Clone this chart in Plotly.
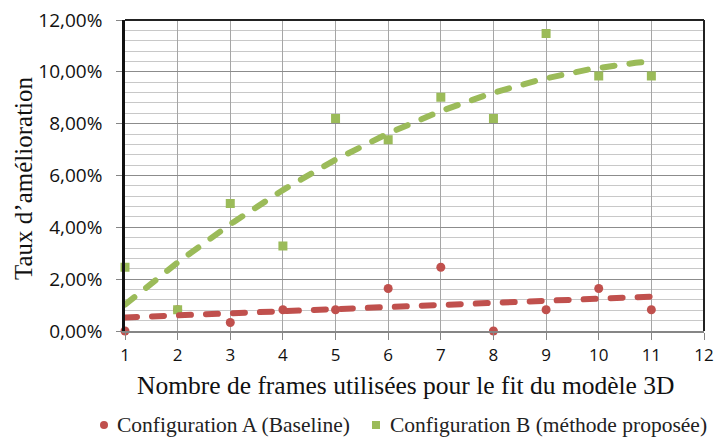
import numpy as np
import plotly.graph_objects as go

# Number of frames used for the 3D model fit
frames = [1, 2, 3, 4, 5, 6, 7, 8, 9, 10, 11]

# Improvement rate (%) per configuration
config_a = [0.00, 0.82, 0.33, 0.82, 0.82, 1.64, 2.46, 0.00, 0.82, 1.64, 0.82]
config_b = [2.46, 0.82, 4.92, 3.28, 8.20, 7.38, 9.02, 8.20, 11.48, 9.84, 9.84]

name_a = "Configuration A (Baseline)"
name_b = "Configuration B (méthode proposée)"
x_title = "Nombre de frames utilisées pour le fit du modèle 3D"
y_title = "Taux d’amélioration"

red = "#C0504D"
green = "#9BBB59"

# Trend lines: linear for A, 2nd-order polynomial for B
xs = np.linspace(frames[0], frames[-1], 200)
trend_a = np.polyval(np.polyfit(frames, config_a, 1), xs)
trend_b = np.polyval(np.polyfit(frames, config_b, 2), xs)

fig = go.Figure()
fig.add_trace(go.Scatter(x=frames, y=config_a, mode="markers", name=name_a,
                         marker=dict(symbol="circle", size=9, color=red),
                         cliponaxis=False))
fig.add_trace(go.Scatter(x=frames, y=config_b, mode="markers", name=name_b,
                         marker=dict(symbol="square", size=9, color=green),
                         cliponaxis=False))
fig.add_trace(go.Scatter(x=xs, y=trend_a, mode="lines",
                         line=dict(color=red, width=6, dash="12px,15px")))
fig.add_trace(go.Scatter(x=xs, y=trend_b, mode="lines",
                         line=dict(color=green, width=6, dash="12px,15px")))

serif = "Liberation Serif"
sans = "Open Sans"

# Plot-area geometry in pixels, used to place the hand-built legend
W, H = 716, 437
ML, MR, MT, MB = 125, 12, 20, 106
PW, PH = W - ML - MR, H - MT - MB


def px_x(p):
    return (p - ML) / PW


def px_y(p):
    return (H - MB - p) / PH


legend_y = px_y(425)
legend_items = [
    # (symbol shape, colour, symbol centre x, text left x, label)
    ("circle", red, 104, 115, name_a),
    ("rect", green, 376, 388, name_b),
]

shapes = [
    # top and right frame of the plot area
    dict(type="line", xref="paper", yref="paper", x0=0, x1=1, y0=1, y1=1,
         line=dict(color="#222", width=2), layer="above"),
    dict(type="line", xref="paper", yref="paper", x0=1, x1=1, y0=0, y1=1,
         line=dict(color="#222", width=2), layer="above"),
]
annotations = [
    dict(text=x_title, xref="paper", yref="paper", x=0.484, y=px_y(385),
         xanchor="center", yanchor="middle", showarrow=False,
         font=dict(family=serif, size=25.5, color="#111")),
    dict(text=y_title, xref="paper", yref="paper", x=px_x(23), y=px_y(178),
         xanchor="center", yanchor="middle", textangle=-90, showarrow=False,
         font=dict(family=serif, size=25, color="#111")),
]
for shape, colour, sx, tx, label in legend_items:
    shapes.append(dict(type=shape, xref="paper", yref="paper",
                       xsizemode="pixel", ysizemode="pixel",
                       xanchor=px_x(sx), yanchor=legend_y,
                       x0=-4, x1=4, y0=-4, y1=4,
                       fillcolor=colour, line=dict(width=0)))
    annotations.append(dict(text=label, xref="paper", yref="paper",
                            x=px_x(tx), y=legend_y, xanchor="left", yanchor="middle",
                            showarrow=False,
                            font=dict(family=serif, size=21.5, color="#222")))

fig.update_layout(
    width=W, height=H,
    margin=dict(l=ML, r=MR, t=MT, b=MB, autoexpand=False),
    paper_bgcolor="white", plot_bgcolor="white",
    font=dict(family=serif, size=20, color="#111"),
    separators=", ",
    showlegend=False,
    xaxis=dict(
        range=[1, 12], dtick=1, tick0=1, automargin=False,
        showgrid=True, gridcolor="#A6A6A6", gridwidth=1.2,
        showline=True, linecolor="#868686", linewidth=2,
        ticks="outside", ticklen=7, tickcolor="#868686", tickwidth=1.2,
        tickfont=dict(family=sans, size=17, color="#111"),
        ticklabelstandoff=1,
        zeroline=False,
    ),
    yaxis=dict(
        range=[0, 12], dtick=2, tickformat=".2f", ticksuffix="%", automargin=False,
        showgrid=True, gridcolor="#8C8C8C", gridwidth=1.3,
        minor=dict(dtick=0.4, showgrid=True, gridcolor="#C8C8C8", gridwidth=1.2),
        showline=True, linecolor="#111", linewidth=2.5,
        ticks="outside", ticklen=6, tickcolor="#868686", tickwidth=1.2,
        tickfont=dict(family=sans, size=19, color="#111"),
        ticklabelstandoff=10,
        zeroline=False,
    ),
    shapes=shapes,
    annotations=annotations,
)

fig.write_html(
    "out.html",
    post_script="document.querySelectorAll('.scatterlayer .js-line')"
                ".forEach(function(p){p.style.strokeLinecap='round';});",
)
